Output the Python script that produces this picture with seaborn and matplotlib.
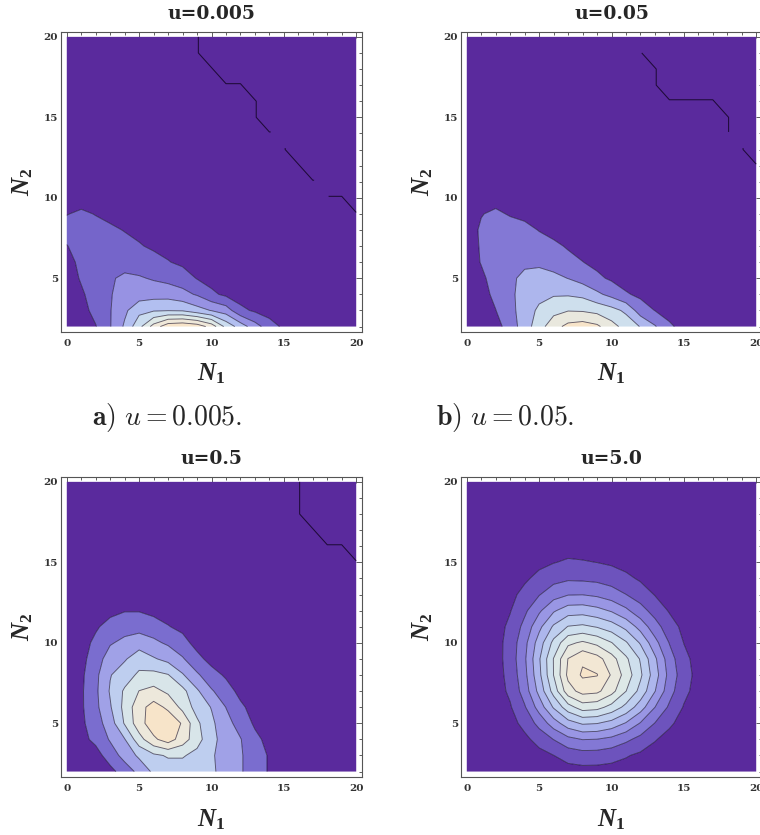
import numpy as np
import matplotlib
matplotlib.use("Agg")
import matplotlib.pyplot as plt
import seaborn as sns

# ---------------- data ----------------
N1 = list(range(0, 21))          # lattice N1 = 0..20
N2 = list(range(2, 21))          # lattice N2 = 2..20
panel_titles = ["u=0.005", "u=0.05", "u=0.5", "u=5.0"]
captions = [r"$\mathbf{a})\ u = 0.005.$", r"$\mathbf{b})\ u = 0.05.$"]
n_bands = [7, 5, 6, 10]          # number of shaded levels above the background
x_ticks = [0, 5, 10, 15, 20]
y_ticks = [5, 10, 15, 20]
# lattice points (N1, N2) where the faint top-right contour is broken
line_gaps = [[(15, 14), (18, 11)], [(12, 20), (13, 20), (19, 14)], [], []]

L = -0.45   # lattice point lying on the faint top-right contour
M = -1.0    # lattice point beyond it

# contour-level index at every lattice point; rows from N2=20 (top) down to N2=2
grid_u0005 = [
    [0,0,0,0,0,0,0,0,0,L,M,M,M,M,M,M,M,M,M,M,M],
    [0,0,0,0,0,0,0,0,0,L,M,M,M,M,M,M,M,M,M,M,M],
    [0,0,0,0,0,0,0,0,0,0,L,M,M,M,M,M,M,M,M,M,M],
    [0,0,0,0,0,0,0,0,0,0,0,L,L,M,M,M,M,M,M,M,M],
    [0,0,0,0,0,0,0,0,0,0,0,0,0,L,M,M,M,M,M,M,M],
    [0,0,0,0,0,0,0,0,0,0,0,0,0,L,M,M,M,M,M,M,M],
    [0,0,0,0,0,0,0,0,0,0,0,0,0,0,L,M,M,M,M,M,M],
    [0,0,0,0,0,0,0,0,0,0,0,0,0,0,0,L,M,M,M,M,M],
    [0,0,0,0,0,0,0,0,0,0,0,0,0,0,0,0,L,M,M,M,M],
    [0,0,0,0,0,0,0,0,0,0,0,0,0,0,0,0,0,L,M,M,M],
    [0,0,0,0,0,0,0,0,0,0,0,0,0,0,0,0,0,0,L,L,M],
    [0.45,0.7,0.45,0.2,0.1,0.05,0,0,0,0,0,0,0,0,0,0,0,0,0,0,L],
    [1.0,1.0,0.9,0.7,0.45,0.2,0.1,0.05],
    [0.45,1.0,1.0,0.95,0.85,0.6,0.3,0.2,0.05],
    [0,0.85,1.0,1.05,1.0,1.0,0.95,0.55,0.3,0.1],
    [0,0.6,1.0,1.35,1.75,1.6,1.4,1.2,1.0,0.45,0.15],
    [0,0.35,0.95,1.4,2.1,2.0,2.1,2.1,1.8,1.4,0.7,0.3,0.05],
    [0,0.15,0.8,1.45,2.3,3.2,3.4,3.45,3.4,2.9,2.45,2.0,0.75,0.35,0.05],
    [0,0,0.45,1.45,2.65,4.2,5.9,7.2,7.4,7.1,6.1,4.2,3.05,1.93,0.96,0.3],
]

grid_u005 = [
    [0,0,0,0,0,0,0,0,0,0,0,0,L,M,M,M,M,M,M,M,M],
    [0,0,0,0,0,0,0,0,0,0,0,0,L,M,M,M,M,M,M,M,M],
    [0,0,0,0,0,0,0,0,0,0,0,0,0,L,M,M,M,M,M,M,M],
    [0,0,0,0,0,0,0,0,0,0,0,0,0,L,M,M,M,M,M,M,M],
    [0,0,0,0,0,0,0,0,0,0,0,0,0,0,L,L,L,L,M,M,M],
    [0,0,0,0,0,0,0,0,0,0,0,0,0,0,0,0,0,0,L,M,M],
    [0,0,0,0,0,0,0,0,0,0,0,0,0,0,0,0,0,0,L,M,M],
    [0,0,0,0,0,0,0,0,0,0,0,0,0,0,0,0,0,0,0,L,M],
    [0,0,0,0,0,0,0,0,0,0,0,0,0,0,0,0,0,0,0,0,L],
    [0],
    [0,0,0.1,0.05],
    [0,0.45,0.7,0.4,0.2,0.05],
    [0,0.65,1.0,1.0,0.85,0.45,0.2,0.05],
    [0,0.6,1.05,1.15,1.15,1.0,0.7,0.4,0.15,0.05],
    [0,0.55,1.0,1.2,1.3,1.3,1.1,0.8,0.52,0.25,0.05],
    [0,0.3,0.9,1.3,1.75,1.9,1.75,1.48,1.1,0.7,0.35,0.1],
    [0,0.15,0.73,1.3,1.9,2.2,2.4,2.4,2.25,1.7,1.2,0.6,0.3,0.05],
    [0,0.1,0.48,1.21,1.96,2.7,3.2,3.45,3.4,3.2,2.85,2.3,1.0,0.48,0.1],
    [0,0,0.1,0.99,1.99,3.08,4.1,4.8,5.0,4.7,3.86,3.13,2.45,1.59,0.68,0.15],
]

grid_u05 = [
    [0,0,0,0,0,0,0,0,0,0,0,0,0,0,0,0,L,M,M,M,M],
    [0,0,0,0,0,0,0,0,0,0,0,0,0,0,0,0,L,M,M,M,M],
    [0,0,0,0,0,0,0,0,0,0,0,0,0,0,0,0,L,M,M,M,M],
    [0,0,0,0,0,0,0,0,0,0,0,0,0,0,0,0,0,L,M,M,M],
    [0,0,0,0,0,0,0,0,0,0,0,0,0,0,0,0,0,0,L,L,M],
    [0,0,0,0,0,0,0,0,0,0,0,0,0,0,0,0,0,0,0,0,L],
    [0],
    [0],
    [0,0,0.05,0.2,0.45,0.45,0.2,0.1],
    [0,0,0.35,0.9,1.1,1.1,1.0,0.55,0.25,0.05],
    [0,0.05,0.75,1.4,1.75,2.1,1.7,1.35,0.85,0.15],
    [0,0.2,1.0,2.0,2.4,3.0,2.6,2.2,1.6,0.8,0.15],
    [0,0.3,1.25,2.45,3.0,3.7,3.8,3.55,2.6,1.65,0.9,0.35],
    [0,0.35,1.3,2.6,3.65,4.52,4.8,4.3,3.8,2.65,1.6,0.95,0.2],
    [0,0.35,1.25,2.4,3.8,5.15,5.9,5.3,4.2,3.1,2.45,1.48,0.7,0.1],
    [0,0.3,1.05,2.0,3.6,5.1,6.1,6.2,5.4,3.7,2.7,1.85,1.1,0.35,0.05],
    [0,0.2,0.75,1.6,2.45,4.1,5.3,6.0,5.0,3.9,2.8,2.05,1.55,0.75,0.2],
    [0,0.05,0.1,0.98,1.86,2.69,3.31,3.6,3.6,3.19,2.61,2.1,1.6,1.0,0.4],
    [0,0,0,0.2,0.96,1.77,2.7,3.0,3.0,3.0,2.66,2.13,1.6,1.0,0.4],
]

grid_u50 = [
    [0], [0], [0], [0],
    [0,0,0,0,0,0.03,0.07,0.1,0.09,0.08,0.06,0.03],
    [0,0,0,0,0.07,0.24,0.46,0.63,0.57,0.49,0.35,0.14,0.06],
    [0,0,0,0.07,0.33,0.79,1.17,1.35,1.31,1.24,1.05,0.73,0.36,0.1],
    [0,0,0,0.22,0.81,1.44,2.07,2.44,2.47,2.3,1.96,1.51,1.03,0.45,0.1],
    [0,0,0.05,0.45,1.3,2.33,3.37,4.02,4.08,3.82,3.39,2.71,1.87,1.12,0.41,0.08],
    [0,0,0.09,0.72,1.8,3.23,4.65,5.55,5.7,5.43,4.98,4.22,3.13,1.9,0.95,0.24,0.02],
    [0,0,0.11,0.9,2.19,3.98,5.78,7.27,7.67,7.25,6.54,5.62,4.39,2.84,1.46,0.48,0.08],
    [0,0,0.11,0.92,2.34,4.38,6.54,8.53,9.35,8.88,7.91,6.69,5.41,3.69,1.95,0.78,0.12],
    [0,0,0.09,0.82,2.2,4.23,6.52,8.74,9.65,9.55,8.4,7.09,5.68,3.96,2.16,0.93,0.18],
    [0,0,0.07,0.68,1.96,3.81,5.9,8.1,8.86,8.73,7.86,6.52,5.18,3.54,1.89,0.76,0.11],
    [0,0,0.03,0.41,1.4,2.91,4.61,6.09,7.0,6.85,6.16,5.21,3.97,2.51,1.33,0.43,0.07],
    [0,0,0,0.12,0.82,1.81,3.01,4.08,4.63,4.54,4.14,3.42,2.43,1.47,0.67,0.13],
    [0,0,0,0.02,0.25,0.87,1.52,2.2,2.53,2.48,2.22,1.72,1.18,0.57,0.16],
    [0,0,0,0,0.03,0.17,0.49,0.88,1.05,1.03,0.87,0.58,0.31,0.09],
    [0,0,0,0,0,0,0.06,0.11,0.16,0.15,0.1,0.07],
]

grids = [grid_u0005, grid_u005, grid_u05, grid_u50]

# ---------------- styling ----------------
sns.set_style("white")
plt.rcParams["font.family"] = ["DejaVu Serif", "DejaVu Sans"]
plt.rcParams["font.weight"] = "bold"
plt.rcParams["mathtext.fontset"] = "custom"
plt.rcParams["mathtext.it"] = "Liberation Serif:italic:bold"
plt.rcParams["mathtext.rm"] = "Liberation Serif:bold"
plt.rcParams["mathtext.bf"] = "Liberation Serif:bold"
plt.rcParams["contour.negative_linestyle"] = "solid"

shade = sns.blend_palette(["#5a2a9d", "#7566cb", "#9792e3", "#b2bff0",
                           "#cadcef", "#dfe9e6", "#efe8d9", "#f7e4c9"], as_cmap=True)
line_rgba = (0.05, 0.02, 0.12, 0.62)
faint_rgba = (0.08, 0.02, 0.15, 0.85)

W, H = 760, 835
fig = plt.figure(figsize=(W / 100, H / 100), dpi=100)

# frame boxes in pixels: (left, top)
frames = [(61, 31.7), (461, 31.7), (61, 476.7), (461, 476.7)]
fw, fh = 301, 300


def table(rows):
    Z = np.zeros((len(N2), len(N1)))
    for i, r in enumerate(rows[::-1]):
        Z[i, :len(r)] = r
    return Z


X, Y = np.meshgrid(N1, N2)

for idx, (rows, K, title) in enumerate(zip(grids, n_bands, panel_titles)):
    left, top = frames[idx]
    ax = fig.add_axes([left / W, 1 - (top + fh) / H, fw / W, fh / H])
    ax.set_facecolor("white")
    Z = table(rows)
    # background band spans both sides of the faint top-right contour
    levels = [-1.5] + [k + 0.5 for k in range(K + 1)]
    colors = [shade(0.0)] + [shade(k / K) for k in range(1, K + 1)]
    ax.contourf(X, Y, Z, levels=levels, colors=colors, antialiased=True)
    ax.contour(X, Y, Z, levels=[k + 0.5 for k in range(K)],
               colors=[line_rgba], linewidths=0.65, linestyles="solid")
    if Z.min() < -0.5:
        mask = np.zeros_like(Z, dtype=bool)
        for gx, gy in line_gaps[idx]:
            mask[N2.index(gy), N1.index(gx)] = True
        Zl = np.ma.masked_array(Z, mask=mask)
        ax.contour(X, Y, Zl, levels=[-0.5], colors=[faint_rgba], linewidths=0.75,
                   linestyles="solid")
    ax.set_xlim(-0.4, 20.4)
    ax.set_ylim(1.68, 20.32)
    ax.set_xticks(x_ticks)
    ax.set_yticks(y_ticks)
    ax.set_xticks(list(range(0, 21)), minor=True)
    ax.set_yticks(list(range(2, 21)), minor=True)
    ax.tick_params(which="both", direction="in", top=True, right=True,
                   colors="#444444", width=0.6)
    ax.tick_params(which="major", length=4.5, labelsize=7.5, labelcolor="#333333")
    ax.tick_params(which="minor", length=2.3)
    ax.tick_params(axis="x", which="major", pad=5)
    ax.tick_params(axis="y", which="major", pad=2)
    for s in ax.spines.values():
        s.set_color("#555555")
        s.set_linewidth(0.8)

    cx = left + fw / 2
    ty = 14 if idx < 2 else 459
    fig.text(cx / W, 1 - ty / H, title, ha="center", va="center",
             fontsize=13.5, fontweight="bold")
    fig.text(cx / W, 1 - (top + fh + 42.5) / H, r"$N_1$", ha="center", va="center",
             fontsize=18)
    fig.text((left - 38) / W, 1 - (top + fh / 2) / H, r"$N_2$", ha="center",
             va="center", rotation=90, fontsize=18)

# sub-figure captions
for (cx, txt) in zip([167, 505], captions):
    fig.text(cx / W, 1 - 417 / H, txt, ha="center", va="center", fontsize=20,
             math_fontfamily="cm", fontweight="normal")

fig.savefig("out.png", dpi=100, facecolor="white")
